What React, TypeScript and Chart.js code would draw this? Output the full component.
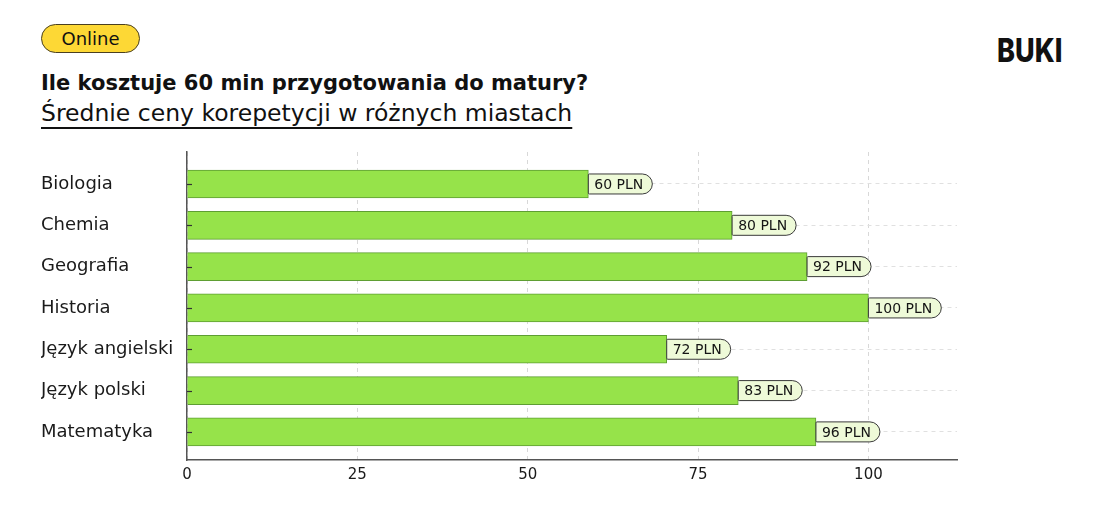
import React, { useEffect, useRef } from "react";
import { Chart, registerables } from "chart.js";
Chart.register(...registerables);

const categories = [
  "Biologia",
  "Chemia",
  "Geografia",
  "Historia",
  "Język angielski",
  "Język polski",
  "Matematyka",
];
const barValues = [58.9, 80, 91, 100, 70.4, 80.9, 92.3];
const priceLabels = ["60 PLN", "80 PLN", "92 PLN", "100 PLN", "72 PLN", "83 PLN", "96 PLN"];
const xTicks = [0, 25, 50, 75, 100];

const FONT = "'DejaVu Sans', 'Noto Sans', sans-serif";

const pillPlugin = {
  id: "pills",
  afterDatasetsDraw(chart: any) {
    const ctx = chart.ctx;
    const meta = chart.getDatasetMeta(0);
    const yScale = chart.scales.y;
    ctx.save();
    ctx.font = `14px ${FONT}`;
    meta.data.forEach((bar: any, i: number) => {
      const text = priceLabels[i];
      const tw = ctx.measureText(text).width;
      const x = bar.x;
      const y = bar.y;
      const h = 20;
      const w = tw + 15;
      ctx.beginPath();
      (ctx as any).roundRect(x, y - h / 2, w, h, [1, 10, 10, 1]);
      ctx.fillStyle = "#EEFAD8";
      ctx.fill();
      ctx.lineWidth = 1;
      ctx.strokeStyle = "#3a3a3a";
      ctx.stroke();
      ctx.fillStyle = "#151515";
      ctx.textBaseline = "middle";
      ctx.textAlign = "left";
      ctx.fillText(text, x + 6, y + 1);
    });
    // inner tick marks on y axis
    const left = chart.chartArea.left;
    ctx.strokeStyle = "#333";
    ctx.lineWidth = 1.2;
    categories.forEach((_, i) => {
      const yy = Math.round(yScale.getPixelForValue(i)) + 0.5;
      ctx.beginPath();
      ctx.moveTo(left, yy);
      ctx.lineTo(left + 5, yy);
      ctx.stroke();
    });
    ctx.restore();
  },
};

function BarChart() {
  const ref = useRef<HTMLCanvasElement | null>(null);
  useEffect(() => {
    if (!ref.current) return;
    const chart = new Chart(ref.current, {
      type: "bar",
      data: {
        datasets: [
          {
            data: barValues.map((v, i) => ({ x: v, y: i })) as any,
            backgroundColor: "#96E34A",
            borderColor: "#5E9E33",
            borderWidth: 1,
            barThickness: 28,
          },
        ],
      },
      options: {
        animation: false,
        responsive: false,
        maintainAspectRatio: false,
        indexAxis: "y",
        layout: { padding: { left: 41, right: 143, top: 12, bottom: 18 } },
        plugins: { legend: { display: false }, tooltip: { enabled: false } },
        scales: {
          x: {
            type: "linear",
            min: 0,
            max: 113,
            afterBuildTicks: (s: any) => {
              s.ticks = xTicks.map((v) => ({ value: v }));
            },
            afterFit: (s: any) => {
              s.height = 40;
            },
            grid: { color: "#d8d8d8", drawTicks: false, lineWidth: 1 },
            border: { color: "#555", width: 1.5, dash: [4, 4] },
            ticks: {
              padding: 6,
              color: "#1a1a1a",
              font: { family: FONT, size: 15 },
            },
          },
          y: {
            type: "linear",
            reverse: true,
            offset: false,
            min: -0.774,
            max: 6.68,
            afterBuildTicks: (s: any) => {
              s.ticks = categories.map((_, i) => ({ value: i }));
            },
            afterFit: (s: any) => {
              s.width = 146;
            },
            grid: { color: "#e0e0e0", drawTicks: false, lineWidth: 1, offset: false },
            border: { color: "#555", width: 1.5, dash: [4, 4] },
            ticks: {
              crossAlign: "far",
              padding: 0,
              color: "#1a1a1a",
              font: { family: FONT, size: 18 },
              callback: (v: any) => categories[v as number] ?? "",
            },
          },
        },
      } as any,
      plugins: [pillPlugin],
    });
    return () => chart.destroy();
  }, []);
  return (
    <canvas
      ref={ref}
      width={1100}
      height={378}
      style={{ position: "absolute", left: 0, top: 140, width: 1100, height: 378 }}
    />
  );
}

export default function App() {
  useEffect(() => {
    document.body.style.margin = "0";
  }, []);
  return (
    <div
      style={{
        position: "relative",
        width: 1100,
        height: 518,
        background: "#ffffff",
        overflow: "hidden",
        fontFamily: FONT,
        color: "#111",
      }}
    >
      <div
        style={{
          position: "absolute",
          left: 41,
          top: 24,
          width: 99,
          height: 29,
          borderRadius: 15,
          background: "#FDD835",
          border: "1px solid #4a4020",
          display: "flex",
          alignItems: "center",
          justifyContent: "center",
          fontSize: 18,
          boxSizing: "border-box",
        }}
      >
        Online
      </div>
      <div
        style={{
          position: "absolute",
          left: 997,
          top: 31,
          fontFamily: "Inter, sans-serif",
          fontSize: 33,
          fontWeight: 800,
          lineHeight: "38px",
          transform: "scaleX(0.82)",
          transformOrigin: "left center",
        }}
      >
        BUKI
      </div>
      <div
        style={{
          position: "absolute",
          left: 41,
          top: 68,
          fontSize: 21,
          fontWeight: 700,
          lineHeight: "30px",
          whiteSpace: "nowrap",
        }}
      >
        Ile kosztuje 60 min przygotowania do matury?
      </div>
      <div
        style={{
          position: "absolute",
          left: 41,
          top: 98,
          fontSize: 23.5,
          fontWeight: 400,
          lineHeight: "30px",
          whiteSpace: "nowrap",
          textDecoration: "underline",
          textUnderlineOffset: 6,
          textDecorationThickness: 1.5,
          textDecorationSkipInk: "none",
        }}
      >
        Średnie ceny korepetycji w różnych miastach
      </div>
      <BarChart />
    </div>
  );
}
